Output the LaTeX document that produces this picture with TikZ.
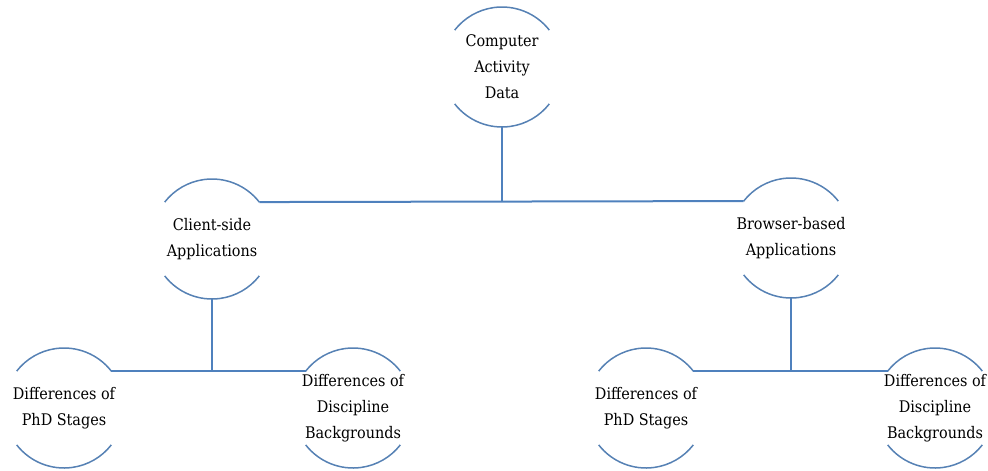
\documentclass[tikz,border=0pt]{standalone}
\usepackage{fontspec}
\setmainfont{DejaVu Serif Condensed}
\definecolor{linkblue}{RGB}{79,129,189}
\begin{document}
\begin{tikzpicture}[x=1pt,y=1pt,
	lbl/.style={align=center,font=\fontsize{16}{26}\selectfont,text=black,inner sep=0pt},
	rim/.style={linkblue!85!gray,line width=1.5pt},
	link/.style={linkblue,line width=2pt}]
	\useasboundingbox (0,0) rectangle (988,-471);
	% topic nodes
	\node[lbl] (data) at (502,-67) {Computer\\Activity\\Data};
	\node[lbl] (client) at (212,-239) {Client-side\\Applications};
	\node[lbl] (browser) at (791,-238) {Browser-based\\Applications};
	\node[lbl] (phdA) at (64,-408) {Differences of\\PhD Stages};
	\node[lbl] (discA) at (353,-408) {Differences of\\Discipline\\Backgrounds};
	\node[lbl] (phdB) at (646,-408) {Differences of\\PhD Stages};
	\node[lbl] (discB) at (935,-408) {Differences of\\Discipline\\Backgrounds};
	% open circles round them
	\foreach \n in {data,client,browser,phdA,discA,phdB,discB}{
		\coordinate (\n-ne) at ([shift={(38:60)}]\n.center);
		\coordinate (\n-nw) at ([shift={(142:60)}]\n.center);
		\coordinate (\n-sw) at ([shift={(218:60)}]\n.center);
		\coordinate (\n-s) at ([shift={(270:60)}]\n.center);
		\draw[rim] (\n-ne) arc[start angle=38,end angle=142,radius=60];
		\draw[rim] (\n-sw) arc[start angle=218,end angle=322,radius=60];
	}
	% connectors
	\draw[link] (client-ne) -- (browser-nw);
	\draw[link] (data-s) -- (data-s |- client-ne);
	\draw[link] (phdA-ne) -- (discA-nw);
	\draw[link] (client-s) -- (client-s |- phdA-ne);
	\draw[link] (phdB-ne) -- (discB-nw);
	\draw[link] (browser-s) -- (browser-s |- phdB-ne);
\end{tikzpicture}
\end{document}
